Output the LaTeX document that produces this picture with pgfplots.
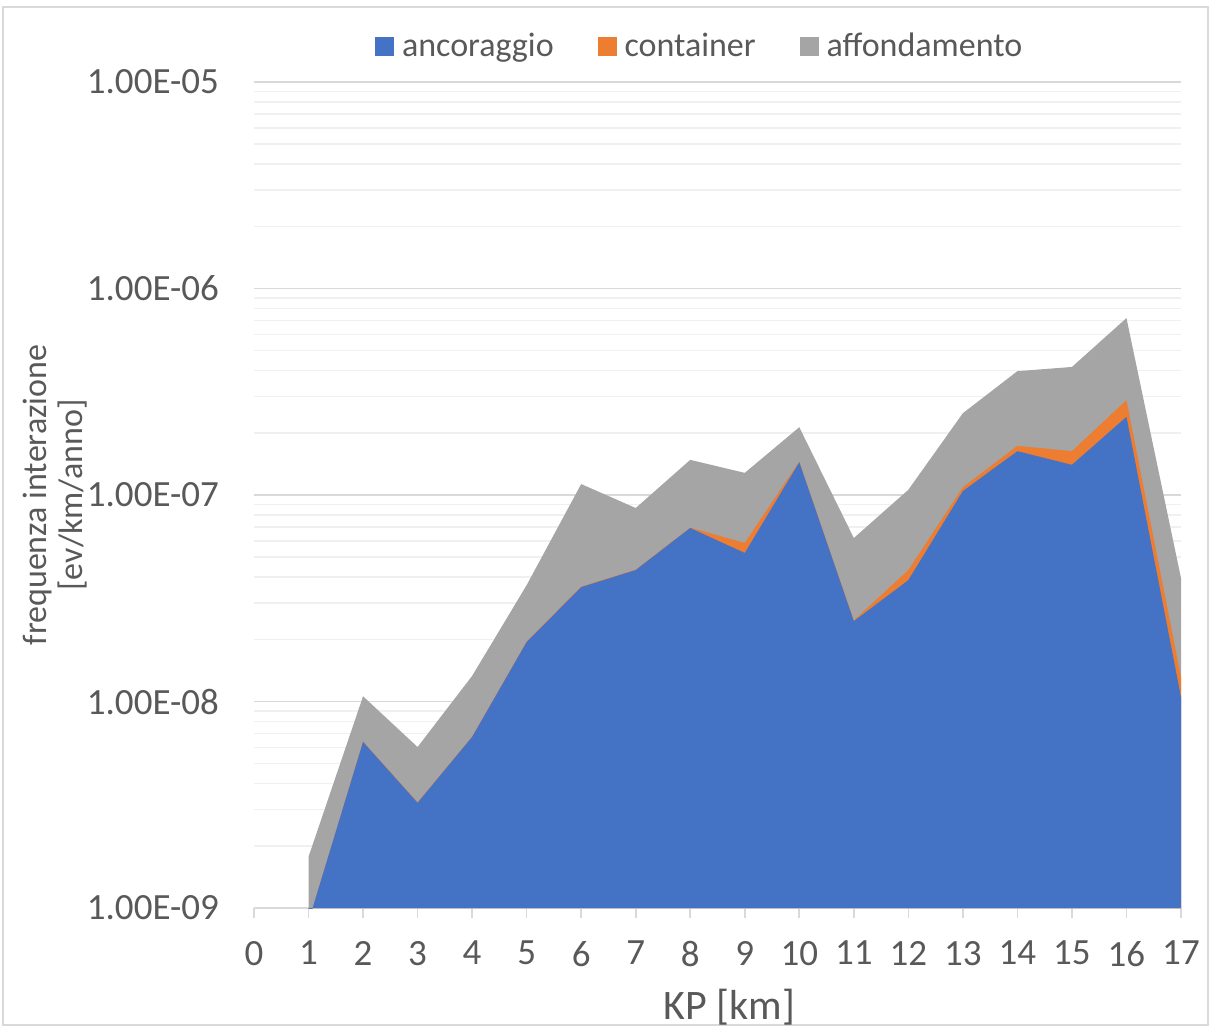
\documentclass[border=0pt]{standalone}
\usepackage{pgfplots}
\pgfplotsset{compat=1.18}
\usepackage{pgfplotstable}
\usepackage{fontspec}
\setmainfont{Carlito}
\definecolor{cblue}{HTML}{4472C4}
\definecolor{corange}{HTML}{ED7D31}
\definecolor{cgray}{HTML}{A5A5A5}
\definecolor{txt}{HTML}{595959}
\definecolor{gmaj}{HTML}{D9D9D9}
\definecolor{gmin}{HTML}{F0F0F0}
% cumulative (stacked) values: a = ancoraggio, ac = ancoraggio+container, tot = all three
\pgfplotstableread{
x a ac tot
1 8.6e-10 8.6e-10 1.77e-9
2 6.37e-9 6.40e-9 1.06e-8
3 3.23e-9 3.25e-9 6.02e-9
4 6.73e-9 6.76e-9 1.33e-8
5 1.94e-8 1.95e-8 3.66e-8
6 3.58e-8 3.60e-8 1.13e-7
7 4.33e-8 4.35e-8 8.65e-8
8 6.92e-8 6.95e-8 1.48e-7
9 5.24e-8 5.86e-8 1.28e-7
10 1.44e-7 1.45e-7 2.13e-7
11 2.45e-8 2.47e-8 6.19e-8
12 3.87e-8 4.33e-8 1.06e-7
13 1.045e-7 1.09e-7 2.49e-7
14 1.63e-7 1.73e-7 3.98e-7
15 1.40e-7 1.63e-7 4.17e-7
16 2.39e-7 2.88e-7 7.19e-7
17 1.05e-8 1.31e-8 3.96e-8
}\datatab
\begin{document}
\begin{tikzpicture}
\path (-127pt,-60.5pt) rectangle (479pt,454pt);
\draw[gmaj, line width=0.8pt] (-125.5pt,-58.5pt) rectangle (477pt,450.5pt);
\begin{axis}[
  at={(0,0)}, anchor=south west,
  scale only axis, width=463.5pt, height=413pt,
  ymode=log, ymin=1e-9, ymax=1e-5,
  log origin y=infty,
  xmin=0, xmax=17,
  xtick={0,...,17},
  xticklabels={0,1,2,3,4,5,6,7,8,9,10,11,12,13,14,15,16,17},
  ytick={1e-9,1e-8,1e-7,1e-6,1e-5},
  yticklabels={1.00E-09,1.00E-08,1.00E-07,1.00E-06,1.00E-05},
  /pgf/number format/assume math mode=true,
  axis line style={draw=none},
  xtick pos=bottom,
  ymajorgrids, yminorgrids,
  major grid style={gmaj, line width=0.8pt},
  minor grid style={gmin, line width=0.7pt},
  ytick style={draw=none},
  minor y tick style={draw=none},
  xtick style={gmaj, line width=0.8pt},
  tick align=outside,
  major tick length=5pt,
  tick label style={font=\fontsize{18.5}{20}\selectfont, text=txt},
  yticklabel style={xshift=-9pt},
  xticklabel style={yshift=-8pt},
  xlabel={KP [km]},
  xlabel style={font=\fontsize{21}{24}\selectfont, text=txt, at={(axis description cs:0.5,0)}, anchor=center, yshift=-49.5pt, xshift=6pt},
  ylabel={frequenza interazione\\{[ev/km/anno]}},
  ylabel style={font=\fontsize{17}{18}\selectfont, text=txt, align=center, at={(axis description cs:-0.2147,0.5)}, anchor=center},
  legend style={draw=none, fill=none, at={(0.482,1.0436)}, anchor=center,
    font=\fontsize{17}{20}\selectfont, text=txt,
    /tikz/every odd column/.append style={column sep=2pt},
    /tikz/every even column/.append style={column sep=20pt}},
  legend columns=3,
  legend image code/.code={\fill[#1] (0pt,-4.5pt) rectangle (9pt,4.5pt);},
  clip=true,
]
\addlegendimage{cblue}
\addlegendentry{ancoraggio}
\addlegendimage{corange}
\addlegendentry{container}
\addlegendimage{cgray}
\addlegendentry{affondamento}
\addplot[fill=cgray, draw=none, forget plot] table[x=x, y=tot] {\datatab} \closedcycle;
\addplot[fill=corange, draw=none, forget plot] table[x=x, y=ac] {\datatab} \closedcycle;
\addplot[fill=cblue, draw=none, forget plot] table[x=x, y=a] {\datatab} \closedcycle;
\end{axis}
\end{tikzpicture}
\end{document}
